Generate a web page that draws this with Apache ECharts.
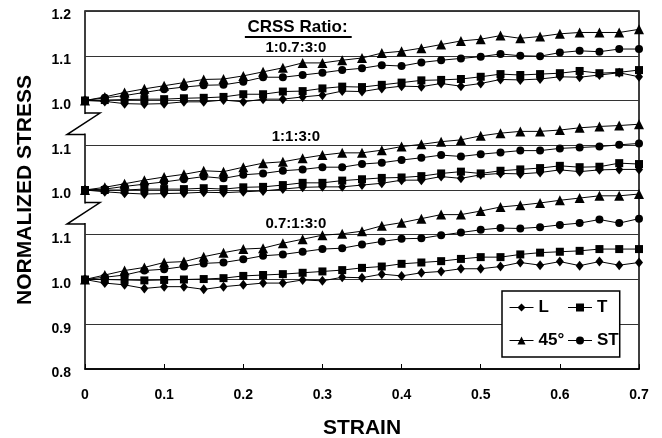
<!DOCTYPE html>
<html><head><meta charset="utf-8">
<script src="https://cdn.jsdelivr.net/npm/echarts@6/dist/echarts.min.js"></script>
<style>html,body{margin:0;padding:0;background:#fff}#c{width:662px;height:438px}</style>
</head><body><div id="c"></div>
<script>
const strain = [0, 0.025, 0.05, 0.075, 0.1, 0.125, 0.15, 0.175, 0.2, 0.225, 0.25, 0.275, 0.3, 0.325, 0.35, 0.375, 0.4, 0.425, 0.45, 0.475, 0.5, 0.525, 0.55, 0.575, 0.6, 0.625, 0.65, 0.675, 0.7];
const xTickLabels = ['0', '0.1', '0.2', '0.3', '0.4', '0.5', '0.6', '0.7'];
const yTickLabels = ['0.8', '0.9', '1.0', '1.1', '1.0', '1.1', '1.0', '1.1', '1.2'];
const seriesNames = ['L', 'T', '45°', 'ST'];
const ratioLabels = ['1:0.7:3:0', '1:1:3:0', '0.7:1:3:0'];

// CRSS ratio 1:0.7:3:0 (top panel)
const r1_L  = [1.000,0.998,0.993,0.992,0.993,0.997,0.997,1.001,0.997,1.003,1.003,1.008,1.012,1.021,1.020,1.027,1.032,1.031,1.038,1.032,1.038,1.047,1.046,1.048,1.053,1.052,1.057,1.062,1.053];
const r1_T  = [1.000,1.001,1.002,1.003,1.003,1.005,1.006,1.008,1.014,1.014,1.020,1.021,1.027,1.031,1.030,1.035,1.040,1.045,1.046,1.048,1.053,1.059,1.057,1.059,1.061,1.066,1.061,1.063,1.068];
const r1_45 = [1.000,1.008,1.018,1.026,1.033,1.040,1.047,1.048,1.055,1.064,1.073,1.084,1.084,1.090,1.095,1.106,1.110,1.117,1.125,1.133,1.137,1.145,1.139,1.143,1.149,1.152,1.152,1.152,1.159];
const r1_ST = [1.000,1.006,1.011,1.018,1.025,1.030,1.034,1.035,1.042,1.052,1.052,1.057,1.062,1.068,1.072,1.079,1.077,1.085,1.090,1.094,1.098,1.104,1.100,1.099,1.107,1.111,1.109,1.115,1.115];
// CRSS ratio 1:1:3:0 (middle panel)
const r2_L  = [1.000,0.996,0.993,0.991,0.992,0.993,0.995,0.994,0.996,0.998,1.002,1.006,1.007,1.007,1.011,1.015,1.022,1.022,1.030,1.026,1.034,1.037,1.036,1.039,1.045,1.041,1.045,1.046,1.046];
const r2_T  = [1.000,1.000,1.000,1.002,1.002,1.002,1.004,1.002,1.006,1.007,1.011,1.016,1.016,1.021,1.024,1.027,1.028,1.031,1.037,1.041,1.037,1.043,1.046,1.049,1.054,1.051,1.052,1.060,1.058];
const r2_45 = [1.000,1.006,1.014,1.022,1.029,1.035,1.043,1.041,1.051,1.060,1.063,1.071,1.078,1.083,1.083,1.089,1.097,1.102,1.108,1.112,1.121,1.127,1.131,1.131,1.134,1.139,1.142,1.144,1.147];
const r2_ST = [1.000,1.002,1.008,1.013,1.018,1.024,1.030,1.026,1.034,1.037,1.043,1.046,1.051,1.051,1.058,1.061,1.067,1.072,1.078,1.075,1.080,1.084,1.088,1.088,1.093,1.095,1.097,1.101,1.104];
// CRSS ratio 0.7:1:3:0 (bottom panel)
const r3_L  = [1.000,0.992,0.988,0.980,0.984,0.984,0.978,0.984,0.988,0.992,0.992,0.999,0.997,1.005,1.004,1.012,1.008,1.015,1.018,1.024,1.024,1.029,1.038,1.032,1.040,1.031,1.040,1.032,1.038];
const r3_T  = [1.000,1.000,0.999,0.998,0.999,1.000,1.001,1.003,1.008,1.010,1.012,1.015,1.018,1.021,1.026,1.029,1.035,1.038,1.041,1.046,1.050,1.050,1.056,1.060,1.062,1.064,1.068,1.068,1.068];
const r3_45 = [1.000,1.010,1.020,1.027,1.038,1.040,1.051,1.060,1.068,1.070,1.081,1.090,1.099,1.102,1.108,1.120,1.127,1.136,1.145,1.145,1.153,1.162,1.166,1.171,1.177,1.182,1.187,1.187,1.191];
const r3_ST = [1.000,1.005,1.010,1.020,1.023,1.029,1.036,1.038,1.045,1.053,1.056,1.062,1.068,1.070,1.078,1.085,1.091,1.092,1.099,1.105,1.111,1.115,1.114,1.117,1.122,1.126,1.134,1.126,1.136];

const groups = [
  { label: ratioLabels[0], offset: 0.4, vals: [r1_L, r1_T, r1_45, r1_ST] },
  { label: ratioLabels[1], offset: 0.2, vals: [r2_L, r2_T, r2_45, r2_ST] },
  { label: ratioLabels[2], offset: 0.0, vals: [r3_L, r3_T, r3_45, r3_ST] }
];

const FONT = '"Liberation Sans", Arial, Helvetica, sans-serif';
const symbols = ['diamond', 'rect', 'triangle', 'circle'];
const sizes = [[8, 10], 8, 10, 8];

const series = [];
groups.forEach(g => {
  g.vals.forEach((arr, k) => {
    series.push({
      name: seriesNames[k],
      type: 'line',
      symbol: symbols[k],
      symbolSize: sizes[k],
      showAllSymbol: true,
      lineStyle: { color: '#000', width: 1 },
      itemStyle: { color: '#000' },
      data: strain.map((x, i) => [x, +(arr[i] + g.offset).toFixed(4)]),
      z: 3
    });
  });
});

const legendTextWidths = [26, 20, 26, 20];

const chart = echarts.init(document.getElementById('c'), null, { renderer: 'canvas' });
const option = {
  animation: false,
  backgroundColor: '#fff',
  grid: { left: 85, right: 23, top: 11, bottom: 69, show: true, borderColor: '#000', borderWidth: 1.5, backgroundColor: 'transparent', outerBoundsMode: 'none', containLabel: false },
  xAxis: {
    type: 'value', min: 0, max: 0.7, interval: 0.1,
    name: 'STRAIN', nameLocation: 'middle', nameGap: 49,
    nameTextStyle: { fontFamily: FONT, fontWeight: 'bold', fontSize: 21, color: '#000' },
    axisLine: { show: true, lineStyle: { color: '#000', width: 1.5 } },
    axisTick: { show: true, inside: true, length: 5, lineStyle: { color: '#000', width: 1 } },
    splitLine: { show: false },
    axisLabel: {
      margin: 19, fontFamily: FONT, fontWeight: 'bold', fontSize: 14, color: '#000',
      formatter: v => xTickLabels[Math.round(v / 0.1)]
    }
  },
  yAxis: {
    type: 'value', min: 0.8, max: 1.6, interval: 0.1,
    name: 'NORMALIZED STRESS', nameLocation: 'middle', nameGap: 49,
    nameTextStyle: { fontFamily: FONT, fontWeight: 'bold', fontSize: 21, color: '#000' },
    axisLine: { show: false },
    axisTick: { show: false },
    splitLine: { show: true, lineStyle: { color: '#333', width: 1 } },
    axisLabel: {
      margin: 14, fontFamily: FONT, fontWeight: 'bold', fontSize: 14, color: '#000',
      verticalAlign: 'top', lineHeight: 9,
      formatter: v => yTickLabels[Math.round((v - 0.8) / 0.1)]
    }
  },
  legend: {
    data: seriesNames.map((n, k) => ({ name: n, textStyle: { width: legendTextWidths[k] } })),
    left: 502, top: 291, width: 112,
    orient: 'horizontal',
    itemWidth: 24, itemHeight: 10, itemGap: 3,
    padding: [1.5, 1, 1.5, 7],
    backgroundColor: '#fff',
    borderColor: '#000', borderWidth: 1.5, borderRadius: 0,
    textStyle: { fontFamily: FONT, fontWeight: 'bold', fontSize: 17, color: '#000', lineHeight: 30 },
    itemStyle: { color: '#000' },
    lineStyle: { color: '#000', width: 1 }
  },
  series: series
};
chart.setOption(option);

function px(x, y) { return chart.convertToPixel({ gridIndex: 0 }, [x, y]); }
const gfx = [];
// axis-break marks between 1.0 and 1.1 of the upper two panels
[[1.372, 1.324], [1.172, 1.124]].forEach(([a, b]) => {
  const A = px(0, a), B = px(0, b);
  gfx.push({ type: 'rect', shape: { x: A[0] - 3, y: A[1] + 1, width: 6, height: B[1] - A[1] - 2 }, style: { fill: '#fff' }, z: 100, silent: true });
  gfx.push({ type: 'polyline', shape: { points: [[A[0], A[1]], [A[0] + 15, A[1]], [A[0] - 18, B[1]], [A[0], B[1]]] }, style: { stroke: '#000', lineWidth: 1.5, fill: null }, z: 101, silent: true });
});
// panel labels
const head = px(0.2685, 1.564);
gfx.push({ type: 'text', x: head[0], y: head[1], style: { text: 'CRSS Ratio:', font: 'bold 17px ' + FONT, fill: '#000', align: 'center', verticalAlign: 'middle' }, z: 50 });
const u1 = px(0.202, 1.542), u2 = px(0.337, 1.542);
gfx.push({ type: 'line', shape: { x1: u1[0], y1: u1[1], x2: u2[0], y2: u2[1] }, style: { stroke: '#000', lineWidth: 2 }, z: 50 });
[1.517, 1.318, 1.124].forEach((yv, k) => {
  const p = px(0.2665, yv);
  gfx.push({ type: 'text', x: p[0], y: p[1], style: { text: groups[k].label, font: 'bold 15px ' + FONT, fill: '#000', align: 'center', verticalAlign: 'middle' }, z: 50 });
});
chart.setOption({ graphic: gfx });
</script>
</body></html>
